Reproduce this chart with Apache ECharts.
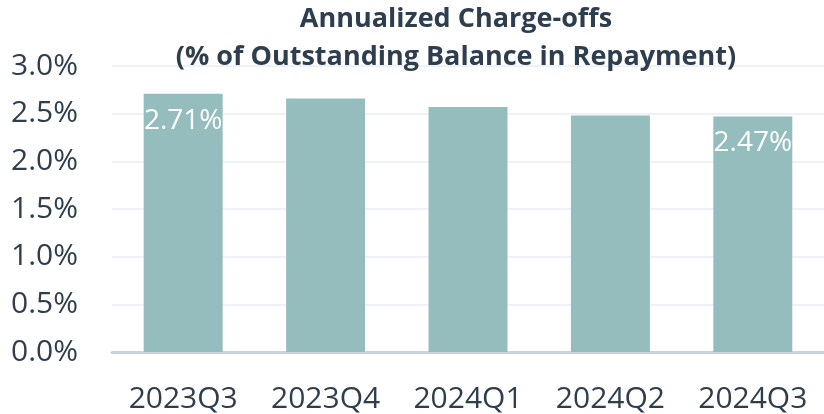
<!DOCTYPE html>
<html>
<head>
<meta charset="utf-8">
<script src="https://cdn.jsdelivr.net/npm/echarts@6/dist/echarts.min.js"></script>
<style>
  html, body { margin: 0; padding: 0; background: #fff; }
  #chart { width: 824px; height: 414px; }
</style>
</head>
<body>
<div id="chart"></div>
<script>
const quarters = ["2023Q3", "2023Q4", "2024Q1", "2024Q2", "2024Q3"]
const chargeOffs = [2.71, 2.66, 2.57, 2.48, 2.47]
// only first and last bars carry a label
const labelled = [0, 4]

const chart = echarts.init(document.getElementById("chart"))

const option = {
    title: {
        text: "Annualized Charge-offs\n(% of Outstanding Balance in Repayment)",
        left: 451,
        top: -5,
        textAlign: "center",
        textStyle: {
            fontFamily: "Open Sans",
            fontWeight: "bold",
            fontSize: 27,
            lineHeight: 38,
            color: "#2e3e4e"
        }
    },
    grid: {
        left: 112,
        right: -3,
        top: 66,
        bottom: 62
    },
    xAxis: {
        type: "category",
        data: quarters,
        axisLine: { lineStyle: { color: "#c9d3de", width: 3 } },
        axisTick: { show: false },
        axisLabel: {
            interval: 0,
            margin: 32,
            fontFamily: "Open Sans",
            fontSize: 30,
            color: "#2e3e4e"
        }
    },
    yAxis: {
        type: "value",
        min: 0,
        max: 3,
        interval: 0.5,
        axisLabel: {
            formatter: v => v.toFixed(1) + "%",
            margin: 34,
            fontFamily: "Open Sans",
            fontSize: 30,
            color: "#2e3e4e"
        },
        splitLine: { lineStyle: { color: "#eef2f6", width: 2 } }
    },
    series: [
        {
            type: "bar",
            data: chargeOffs.map((v, i) => ({
                value: v,
                label: { show: labelled.includes(i) }
            })),
            barWidth: 79,
            itemStyle: { color: "#96bdbe" },
            label: {
                position: "insideTop",
                distance: 13,
                formatter: p => p.value.toFixed(2) + "%",
                fontFamily: "Open Sans",
                fontSize: 28,
                color: "#ffffff"
            }
        }
    ]
}

chart.setOption(option)
</script>
</body>
</html>
